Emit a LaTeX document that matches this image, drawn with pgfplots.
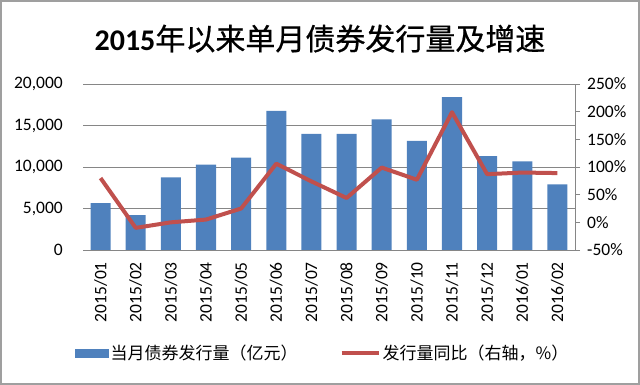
\documentclass[border=0pt]{standalone}
\usepackage{fontspec}
\setmainfont{Carlito}
\newfontfamily\cjk{Noto Sans CJK SC}
\newfontfamily\cjkt[FakeBold=0.7]{Noto Sans CJK SC}
\usepackage{pgfplots}
\pgfplotsset{compat=1.18}
\definecolor{barblue}{RGB}{79,129,189}
\definecolor{linered}{RGB}{192,80,77}
\definecolor{gridgray}{RGB}{134,134,134}
\begin{document}
\begin{tikzpicture}
\useasboundingbox (0,0) rectangle (640bp,-385bp);
\draw[gray!75, line width=1.5bp] (1bp,-1bp) rectangle (639bp,-384bp);
\node[anchor=base, inner sep=0pt] at (320bp,-50bp) {\fontsize{30bp}{36bp}\selectfont{\bfseries 2015}{\cjkt 年以来单月债券发行量及增速}};
\begin{axis}[
  at={(83bp,-250bp)}, anchor=south west,
  scale only axis, width=492bp, height=166bp,
  xmin=-0.5, xmax=13.5, ymin=0, ymax=20000,
  scaled y ticks=false,
  xtick={0,...,13},
  xticklabels={2015/01,2015/02,2015/03,2015/04,2015/05,2015/06,2015/07,2015/08,2015/09,2015/10,2015/11,2015/12,2016/01,2016/02},
  ytick={0,5000,10000,15000,20000},
  yticklabels={0,{5,000},{10,000},{15,000},{20,000}},
  axis line style={draw=none},
  major tick length=0pt,
  ymajorgrids, major grid style={gridgray, line width=0.9bp},
  tick label style={font=\fontsize{17.5bp}{20bp}\selectfont, inner sep=0pt},
  xticklabel style={rotate=90, anchor=east},
  xticklabel shift=12bp,
  yticklabel style={anchor=east},
  yticklabel shift=20bp,
]
\addplot[ybar, bar width=0.57, fill=barblue, draw=none] coordinates {
(0,5650) (1,4200) (2,8750) (3,10300) (4,11130) (5,16770) (6,14000)
(7,14000) (8,15730) (9,13150) (10,18430) (11,11300) (12,10690) (13,7900)
};
\end{axis}
\begin{axis}[
  at={(83bp,-250bp)}, anchor=south west,
  scale only axis, width=492bp, height=166bp,
  xmin=-0.5, xmax=13.5, ymin=-50, ymax=250,
  axis y line*=right, axis x line*=bottom,
  axis line style={gridgray, line width=0.9bp},
  xtick=\empty,
  ytick={-50,0,50,100,150,200,250},
  yticklabels={-50\%,0\%,50\%,100\%,150\%,200\%,250\%},
  tick align=outside, major tick length=5bp,
  ytick style={gridgray, line width=0.9bp},
  tick label style={font=\fontsize{17.5bp}{20bp}\selectfont, inner sep=0pt},
  yticklabel style={anchor=west},
  yticklabel shift=7bp,
  legend columns=2,
  legend style={at={(axis description cs:-0.016,-0.62)}, anchor=west, draw=none, fill=none, inner sep=0pt,
    font=\fontsize{17bp}{20bp}\selectfont,
    /tikz/every even column/.append style={column sep=40bp}},
]
\addlegendimage{legend image code/.code={\fill[barblue] (0bp,-4bp) rectangle (33bp,4bp);}}
\addlegendentry{\cjk 当月债券发行量（亿元）}
\addplot[linered, line width=4bp, line join=round, legend image code/.code={\draw[linered, line width=4bp] (0bp,0bp) -- (37bp,0bp);}] coordinates {
(0,80) (1,-10) (2,0) (3,5) (4,25) (5,106) (6,74)
(7,44) (8,99) (9,77) (10,199) (11,87) (12,90) (13,89)
};
\addlegendentry{\cjk 发行量同比（右轴，\%）}
\end{axis}
\end{tikzpicture}
\end{document}
